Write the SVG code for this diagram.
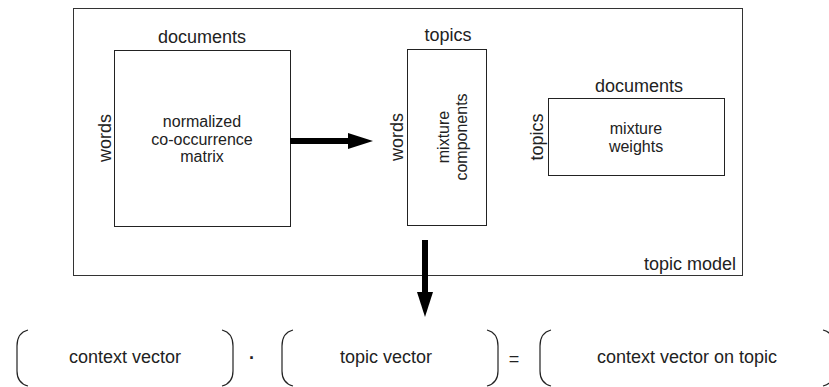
<svg xmlns="http://www.w3.org/2000/svg" width="829" height="387" viewBox="0 0 829 387">
<style>
.box{fill:none;stroke:#222;stroke-width:1}
.frame{fill:none;stroke:#333;stroke-width:1}
.br{fill:none;stroke:#222;stroke-width:1.2}
.lbl{font-family:"Liberation Sans",Arial,sans-serif;font-size:18px;fill:#222}
.in{font-family:"Liberation Sans",Arial,sans-serif;font-size:16px;fill:#222}
.shaft{stroke:#000;stroke-width:6}
.head{fill:#000}
</style>
<rect width="829" height="387" fill="#fff"/>
<g id="topic-model">
<rect class="frame" x="73.5" y="8.5" width="669" height="267"/>
<text class="lbl" x="736" y="270" text-anchor="end">topic model</text>
</g>
<g id="cooccurrence">
<rect class="box" x="114.5" y="50.5" width="176" height="176"/>
<text class="lbl" x="202" y="43" text-anchor="middle">documents</text>
<text class="lbl" transform="translate(111,138) rotate(-90)" text-anchor="middle">words</text>
<text class="in" x="202" y="127" text-anchor="middle">normalized</text>
<text class="in" x="202" y="144.5" text-anchor="middle">co-occurrence</text>
<text class="in" x="202" y="162" text-anchor="middle">matrix</text>
</g>
<g id="components">
<rect class="box" x="407.5" y="49.5" width="79" height="176"/>
<text class="lbl" x="448" y="41" text-anchor="middle">topics</text>
<text class="lbl" transform="translate(403,137) rotate(-90)" text-anchor="middle">words</text>
<text class="in" transform="translate(449,137) rotate(-90)" text-anchor="middle">mixture</text>
<text class="in" transform="translate(466.5,137) rotate(-90)" text-anchor="middle">components</text>
</g>
<g id="weights">
<rect class="box" x="548.5" y="98.5" width="176" height="77"/>
<text class="lbl" x="639" y="92" text-anchor="middle">documents</text>
<text class="lbl" transform="translate(543,137) rotate(-90)" text-anchor="middle">topics</text>
<text class="in" x="636" y="134" text-anchor="middle">mixture</text>
<text class="in" x="636" y="151.5" text-anchor="middle">weights</text>
</g>
<g id="connectors">
<line class="shaft" x1="290" y1="141" x2="349" y2="141"/>
<polygon class="head" points="348,133 373,141 348,149"/>
<line class="shaft" x1="425" y1="240" x2="425" y2="293"/>
<polygon class="head" points="417,292 425,317 433,292"/>
</g>
<g id="context-vector">
<path class="br" d="M28,330 C20,332 17,338 17,346 L17,371 C17,379 20,384 28,386"/>
<path class="br" d="M222,330 C230,332 233,338 233,346 L233,371 C233,379 230,384 222,386"/>
<text class="lbl" x="125" y="363" text-anchor="middle">context vector</text>
</g>
<g id="dot-op">
<text class="lbl" x="252" y="364" text-anchor="middle" font-weight="bold">·</text>
</g>
<g id="topic-vector">
<path class="br" d="M293,330 C285,332 282,338 282,346 L282,371 C282,379 285,384 293,386"/>
<path class="br" d="M487,330 C495,332 498,338 498,346 L498,371 C498,379 495,384 487,386"/>
<text class="lbl" x="386" y="363" text-anchor="middle">topic vector</text>
</g>
<g id="equals-op">
<text class="lbl" x="514" y="365" text-anchor="middle">=</text>
</g>
<g id="result-vector">
<path class="br" d="M551,330 C543,332 540,338 540,346 L540,371 C540,379 543,384 551,386"/>
<path class="br" d="M823,330 C831,332 834,338 834,346 L834,371 C834,379 831,384 823,386"/>
<text class="lbl" x="687" y="363" text-anchor="middle">context vector on topic</text>
</g>
</svg>
